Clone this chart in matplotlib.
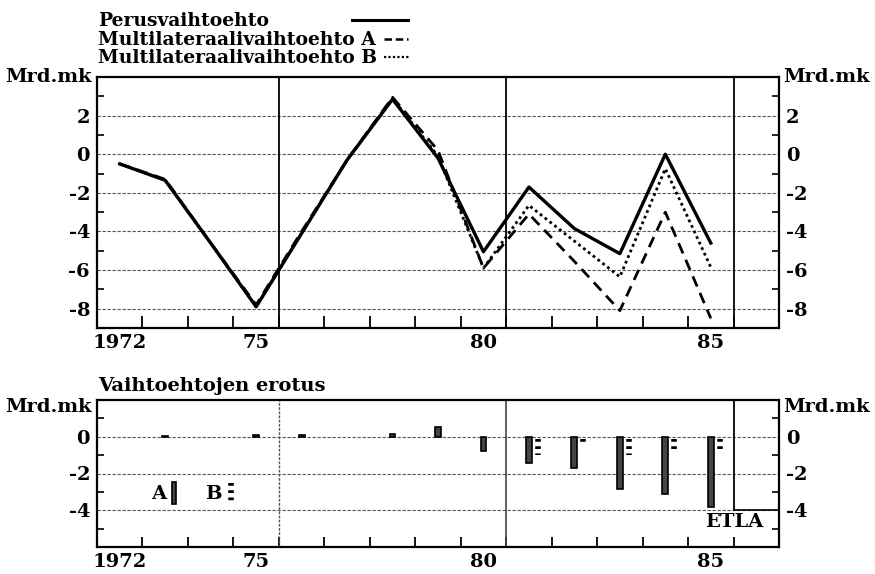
import matplotlib.pyplot as plt
from matplotlib.lines import Line2D

plt.rcParams['font.family'] = 'DejaVu Serif'
plt.rcParams['font.weight'] = 'bold'
plt.rcParams['font.size'] = 14

years = list(range(1972, 1986))
perus = [-0.5, -1.35, -4.6, -7.9, -4.1, -0.3, 2.85, -0.2, -5.05, -1.7, -3.85, -5.15, 0.0, -4.6]
multi_a = [-0.5, -1.3, -4.6, -7.8, -4.0, -0.3, 2.95, 0.2, -5.9, -3.1, -5.55, -8.1, -3.0, -8.5]
multi_b = [-0.5, -1.35, -4.6, -7.9, -4.1, -0.3, 2.9, -0.1, -5.9, -2.65, -4.5, -6.35, -0.75, -5.85]

# erotus perusvaihtoehtoon (A ja B)
diff_a = [0, 0.05, 0, 0.1, 0.1, 0, 0.15, 0.55, -0.8, -1.45, -1.7, -2.85, -3.1, -3.85]
diff_b = [0, 0, 0, 0, 0, 0, 0, 0, 0, -1.0, -0.45, -1.0, -0.8, -0.9]

year_labels = ['1972', '75', '80', '85']
year_label_pos = [1972, 1975, 1980, 1985]
half_years = [y + 0.5 for y in range(1971, 1986)]

W, H = 875, 574


def fx(x):
    return x / W


def fy(y):
    return 1 - y / H


fig = plt.figure(figsize=(8.75, 5.74), dpi=100)
ax1 = fig.add_axes([fx(97), fy(328), (779 - 97) / W, (328 - 77) / H])
ax2 = fig.add_axes([fx(97), fy(547), (779 - 97) / W, (547 - 400) / H])

grid_style = dict(color='#555555', lw=0.8, ls=(0, (3, 1.5)), zorder=1)


def setup(ax, ymin, ymax, major, tick_len):
    ax.set_xlim(1971.5, 1986.5)
    ax.set_ylim(ymin, ymax)
    for s in ax.spines.values():
        s.set_linewidth(1.6)
    for v in major:
        ax.axhline(v, **grid_style)
    ax.set_xticks(year_label_pos)
    ax.set_xticklabels(year_labels)
    ax.set_xticks(half_years, minor=True)
    ax.set_yticks(major)
    ax.set_yticklabels(['%d' % v for v in major])
    ax.set_yticks([v for v in range(ymin + 1, ymax) if v % 2], minor=True)
    ax.tick_params(axis='x', which='major', length=0, pad=4)
    ax.tick_params(axis='x', which='minor', direction='in', length=tick_len,
                   width=1.3, top=False)
    ax.tick_params(axis='y', which='major', length=0, pad=5,
                   left=True, right=True, labelleft=True, labelright=True)
    ax.tick_params(axis='y', which='minor', direction='in', length=5,
                   width=1.2, left=True, right=True)


setup(ax1, -9, 4, [2, 0, -2, -4, -6, -8], 9)
setup(ax2, -6, 2, [0, -2, -4], 7)

# ylempi kuva: vaihtoehdot
for xv in [1975.5, 1980.5, 1985.5]:
    ax1.axvline(xv, color='black', lw=1.3, zorder=2)
ax1.plot(years, multi_b, color='black', lw=2, ls=(0, (1, 1.2)), zorder=3)
ax1.plot(years, multi_a, color='black', lw=2, ls=(0, (4, 2.5)), zorder=3)
ax1.plot(years, perus, color='black', lw=2.4, zorder=4)

# alempi kuva: erotus
ax2.axvline(1975.5, color='#555555', lw=1, ls=(0, (2, 1)), zorder=2)
ax2.axvline(1980.5, color='#444444', lw=1.2, zorder=2)
ax2.plot([1985.5, 1985.5], [2, -4], color='black', lw=1.3, zorder=2)
ax2.plot([1985.5, 1986.5], [-4, -4], color='black', lw=1.2, zorder=2)

xa = [y for y, d in zip(years, diff_a) if d != 0]
da = [d for d in diff_a if d != 0]
ax2.bar(xa, da, width=0.13, color='#444444', edgecolor='black', lw=1.2, zorder=3)
for y, d in zip(years, diff_b):
    if d != 0:
        ax2.vlines(y + 0.2, -0.1, d, color='black', lw=4,
                   linestyles=[(0, (0.5, 0.8))], zorder=3)

ax2.text(1972.85, -3.1, 'A', ha='center', va='center')
ax2.bar([1973.19], [-1.2], bottom=-2.45, width=0.1, color='#444444',
        edgecolor='black', lw=1.2)
ax2.text(1974.06, -3.1, 'B', ha='center', va='center')
ax2.vlines(1974.44, -2.5, -3.65, color='black', lw=4, linestyles=[(0, (0.5, 0.8))])
ax2.text(1986.15, -4.62, 'ETLA', ha='right', va='center')

# yksikot ja otsikot
for ax, off in [(ax1, 0), (ax2, -7)]:
    ax.annotate('Mrd.mk', xy=(0, 1), xycoords='axes fraction',
                xytext=(-5, off), textcoords='offset pixels', ha='right', va='center')
    ax.annotate('Mrd.mk', xy=(1, 1), xycoords='axes fraction',
                xytext=(4, off), textcoords='offset pixels', ha='left', va='center')
ax2.annotate('Vaihtoehtojen erotus', xy=(0, 1), xycoords='axes fraction',
             xytext=(1, 9), textcoords='offset pixels', ha='left', va='baseline')

# selitteet
fig.text(fx(98), fy(26), 'Perusvaihtoehto', va='baseline', fontsize=13.5)
fig.text(fx(98), fy(45), 'Multilateraalivaihtoehto A', va='baseline', fontsize=13.5)
fig.text(fx(98), fy(63), 'Multilateraalivaihtoehto B', va='baseline', fontsize=13.5)
fig.add_artist(Line2D([fx(352), fx(408)], [fy(20), fy(20)], color='black', lw=2.2,
                      transform=fig.transFigure))
fig.add_artist(Line2D([fx(384), fx(408)], [fy(39), fy(39)], color='black', lw=1.8,
                      ls=(0, (3, 1.5)), transform=fig.transFigure))
fig.add_artist(Line2D([fx(384), fx(410)], [fy(57), fy(57)], color='black', lw=1.6,
                      ls=(0, (1, 1)), transform=fig.transFigure))

fig.savefig('out.png', dpi=100)
